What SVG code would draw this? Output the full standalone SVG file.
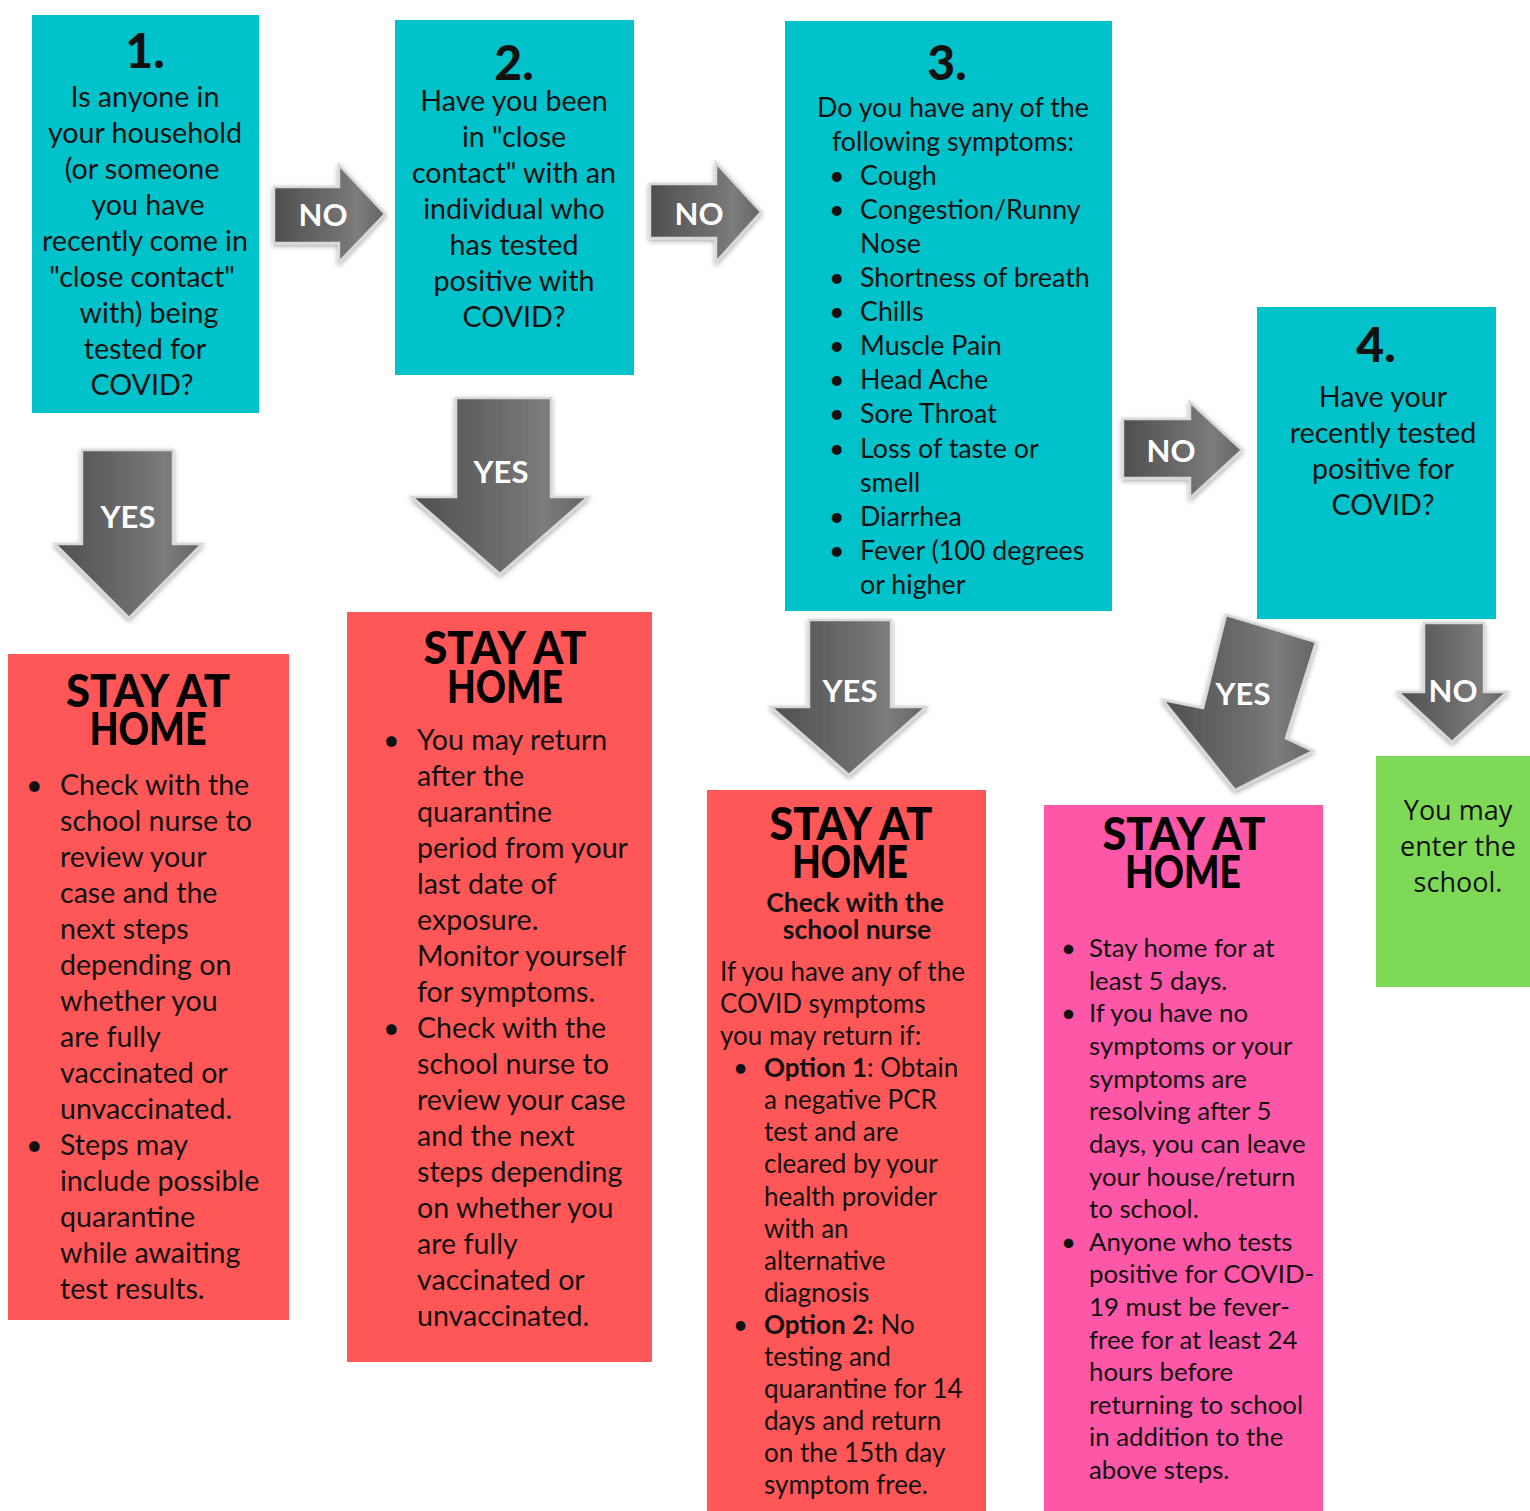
<svg xmlns="http://www.w3.org/2000/svg" width="1530" height="1511" viewBox="0 0 1530 1511">
<style>
.teal{fill:#00C2CB}
.red{fill:#FF5757}
.pink{fill:#FF57A8}
.green{fill:#7ED957}
text{font-family:Lato,"Liberation Sans",sans-serif;fill:#111}
.q{font-size:28.6px;text-anchor:middle}
.num{font-size:48px;font-weight:900;text-anchor:middle}
.b{font-size:26.8px}
.r{font-size:28.6px}
.s{font-size:26px}
.p{font-size:25.8px}
.h{font-size:46px;font-weight:900;text-anchor:middle;fill:#000}
.lbl{font-size:31px;font-weight:bold;fill:#fff;text-anchor:middle}
.arr{fill:url(#ag);stroke:#d8d8d8;stroke-width:2.5;stroke-linejoin:miter;filter:url(#sh)}
.g{font-family:"Open Sans","Liberation Sans",sans-serif;font-size:27px;text-anchor:middle}
</style>
<defs>
<linearGradient id="ag" x1="0" y1="0" x2="1" y2="0">
<stop offset="0" stop-color="#4f4f4f"/>
<stop offset="0.55" stop-color="#6e6e6e"/>
<stop offset="0.75" stop-color="#7c7c7c"/>
<stop offset="1" stop-color="#656565"/>
</linearGradient>
<filter id="sh" x="-20%" y="-20%" width="140%" height="140%">
<feDropShadow dx="0" dy="2" stdDeviation="2.5" flood-color="#000" flood-opacity="0.35"/>
</filter>
</defs>

<g id="node-q1">
<rect class="teal" x="32" y="15" width="227" height="398"/>
<text class="num" x="145" y="68">1.</text>
<text class="q" x="145" y="107">Is anyone in</text>
<text class="q" x="145" y="143">your household</text>
<text class="q" x="142" y="179">(or someone</text>
<text class="q" x="148" y="215">you have</text>
<text class="q" x="145" y="251">recently come in</text>
<text class="q" x="142" y="287">"close contact"</text>
<text class="q" x="149" y="323">with) being</text>
<text class="q" x="145" y="359">tested for</text>
<text class="q" x="142" y="395">COVID?</text>
</g>

<g id="node-q2">
<rect class="teal" x="395" y="20" width="239" height="355"/>
<text class="num" x="514" y="80">2.</text>
<text class="q" x="514" y="111">Have you been</text>
<text class="q" x="514" y="147">in "close</text>
<text class="q" x="514" y="183">contact" with an</text>
<text class="q" x="514" y="219">individual who</text>
<text class="q" x="514" y="255">has tested</text>
<text class="q" x="514" y="291">positive with</text>
<text class="q" x="514" y="327">COVID?</text>
</g>

<g id="node-q3">
<rect class="teal" x="785" y="21" width="327" height="590"/>
<text class="num" x="947" y="80">3.</text>
<text class="b" x="953" y="117" text-anchor="middle">Do you have any of the</text>
<text class="b" x="953" y="151" text-anchor="middle">following symptoms:</text>
<g class="b">
<text x="829" y="185">•</text><text x="860" y="185">Cough</text>
<text x="829" y="219">•</text><text x="860" y="219">Congestion/Runny</text>
<text x="860" y="253">Nose</text>
<text x="829" y="287">•</text><text x="860" y="287">Shortness of breath</text>
<text x="829" y="321">•</text><text x="860" y="321">Chills</text>
<text x="829" y="355">•</text><text x="860" y="355">Muscle Pain</text>
<text x="829" y="389">•</text><text x="860" y="389">Head Ache</text>
<text x="829" y="423">•</text><text x="860" y="423">Sore Throat</text>
<text x="829" y="458">•</text><text x="860" y="458">Loss of taste or</text>
<text x="860" y="492">smell</text>
<text x="829" y="526">•</text><text x="860" y="526">Diarrhea</text>
<text x="829" y="560">•</text><text x="860" y="560">Fever (100 degrees</text>
<text x="860" y="594">or higher</text>
</g>
</g>

<g id="node-q4">
<rect class="teal" x="1257" y="307" width="239" height="312"/>
<text class="num" x="1376" y="362">4.</text>
<text class="q" x="1383" y="407">Have your</text>
<text class="q" x="1383" y="443">recently tested</text>
<text class="q" x="1383" y="479">positive for</text>
<text class="q" x="1383" y="515">COVID?</text>
</g>

<g id="node-stay1">
<rect class="red" x="8" y="654" width="281" height="666"/>
<text class="h"><tspan x="148" y="707" textLength="164" lengthAdjust="spacingAndGlyphs">STAY AT</tspan><tspan x="148" y="745" textLength="117" lengthAdjust="spacingAndGlyphs">HOME</tspan></text>
<g class="r">
<text x="26" y="795">•</text><text x="60" y="795">Check with the</text>
<text x="60" y="831">school nurse to</text>
<text x="60" y="867">review your</text>
<text x="60" y="903">case and the</text>
<text x="60" y="939">next steps</text>
<text x="60" y="975">depending on</text>
<text x="60" y="1011">whether you</text>
<text x="60" y="1047">are fully</text>
<text x="60" y="1083">vaccinated or</text>
<text x="60" y="1119">unvaccinated.</text>
<text x="26" y="1155">•</text><text x="60" y="1155">Steps may</text>
<text x="60" y="1191">include possible</text>
<text x="60" y="1227">quarantine</text>
<text x="60" y="1263">while awaiting</text>
<text x="60" y="1299">test results.</text>
</g>
</g>

<g id="node-stay2">
<rect class="red" x="347" y="612" width="305" height="750"/>
<text class="h"><tspan x="505" y="664" textLength="163" lengthAdjust="spacingAndGlyphs">STAY AT</tspan><tspan x="505" y="703" textLength="116" lengthAdjust="spacingAndGlyphs">HOME</tspan></text>
<g class="r">
<text x="383" y="750">•</text><text x="417" y="750">You may return</text>
<text x="417" y="786">after the</text>
<text x="417" y="822">quarantine</text>
<text x="417" y="858">period from your</text>
<text x="417" y="894">last date of</text>
<text x="417" y="930">exposure.</text>
<text x="417" y="966">Monitor yourself</text>
<text x="417" y="1002">for symptoms.</text>
<text x="383" y="1038">•</text><text x="417" y="1038">Check with the</text>
<text x="417" y="1074">school nurse to</text>
<text x="417" y="1110">review your case</text>
<text x="417" y="1146">and the next</text>
<text x="417" y="1182">steps depending</text>
<text x="417" y="1218">on whether you</text>
<text x="417" y="1254">are fully</text>
<text x="417" y="1290">vaccinated or</text>
<text x="417" y="1326">unvaccinated.</text>
</g>
</g>

<g id="node-stay3">
<rect class="red" x="707" y="790" width="279" height="721"/>
<text class="h"><tspan x="851" y="840" textLength="163" lengthAdjust="spacingAndGlyphs">STAY AT</tspan><tspan x="850" y="878" textLength="116" lengthAdjust="spacingAndGlyphs">HOME</tspan></text>
<text font-size="26.5" font-weight="bold" text-anchor="middle" fill="#000"><tspan x="855" y="912">Check with the</tspan><tspan x="857" y="939">school nurse</tspan></text>
<g class="s">
<text x="720" y="981">If you have any of the</text>
<text x="720" y="1013">COVID symptoms</text>
<text x="720" y="1045">you may return if:</text>
<text x="733" y="1077">•</text><text x="764" y="1077"><tspan font-weight="bold">Option 1</tspan>: Obtain</text>
<text x="764" y="1109">a negative PCR</text>
<text x="764" y="1141">test and are</text>
<text x="764" y="1173">cleared by your</text>
<text x="764" y="1206">health provider</text>
<text x="764" y="1238">with an</text>
<text x="764" y="1270">alternative</text>
<text x="764" y="1302">diagnosis</text>
<text x="733" y="1334">•</text><text x="764" y="1334"><tspan font-weight="bold">Option 2:</tspan> No</text>
<text x="764" y="1366">testing and</text>
<text x="764" y="1398">quarantine for 14</text>
<text x="764" y="1430">days and return</text>
<text x="764" y="1462">on the 15th day</text>
<text x="764" y="1494">symptom free.</text>
</g>
</g>

<g id="node-stay4">
<rect class="pink" x="1044" y="805" width="279" height="706"/>
<text class="h"><tspan x="1184" y="850" textLength="163" lengthAdjust="spacingAndGlyphs">STAY AT</tspan><tspan x="1183" y="888" textLength="116" lengthAdjust="spacingAndGlyphs">HOME</tspan></text>
<g class="p">
<text x="1061" y="957">•</text><text x="1089" y="957">Stay home for at</text>
<text x="1089" y="990">least 5 days.</text>
<text x="1061" y="1022">•</text><text x="1089" y="1022">If you have no</text>
<text x="1089" y="1055">symptoms or your</text>
<text x="1089" y="1088">symptoms are</text>
<text x="1089" y="1120">resolving after 5</text>
<text x="1089" y="1153">days, you can leave</text>
<text x="1089" y="1186">your house/return</text>
<text x="1089" y="1218">to school.</text>
<text x="1061" y="1251">•</text><text x="1089" y="1251">Anyone who tests</text>
<text x="1089" y="1283">positive for COVID-</text>
<text x="1089" y="1316">19 must be fever-</text>
<text x="1089" y="1349">free for at least 24</text>
<text x="1089" y="1381">hours before</text>
<text x="1089" y="1414">returning to school</text>
<text x="1089" y="1446">in addition to the</text>
<text x="1089" y="1479">above steps.</text>
</g>
</g>

<g id="node-enter">
<rect class="green" x="1376" y="756" width="154" height="231"/>
<text class="g" x="1458" y="820">You may</text>
<text class="g" x="1458" y="856">enter the</text>
<text class="g" x="1458" y="892">school.</text>
</g>

<g id="connectors">
<path class="arr" d="M274,187 H339 V165 L385,214 L339,262 V243 H274 Z"/>
<text class="lbl" x="323" y="226">NO</text>
<path class="arr" d="M650,184 H716 V163 L761,212 L716,262 V238 H650 Z"/>
<text class="lbl" x="699" y="225">NO</text>
<path class="arr" d="M1123,419 H1190 V402 L1242,450 L1190,498 V478 H1123 Z"/>
<text class="lbl" x="1171" y="462">NO</text>

<path class="arr" d="M82,450 H173 V544 H202 L129,618 L55,544 H82 Z"/>
<text class="lbl" x="128" y="528">YES</text>
<path class="arr" d="M456,398 H551 V497 H588 L500,574 L412,497 H456 Z"/>
<text class="lbl" x="501" y="483">YES</text>
<path class="arr" d="M809,620 H891 V707 H926 L849,775 L771,707 H809 Z"/>
<text class="lbl" x="850" y="702">YES</text>
<path class="arr" d="M1226,615 L1316,642 L1286,738 L1313,751 L1235,790 L1163,700 L1203,708 Z"/>
<text class="lbl" x="1243" y="705">YES</text>
<path class="arr" d="M1424,623 H1484 V692 H1507 L1452,742 L1398,692 H1424 Z"/>
<text class="lbl" x="1453" y="702">NO</text>
</g>
</svg>
